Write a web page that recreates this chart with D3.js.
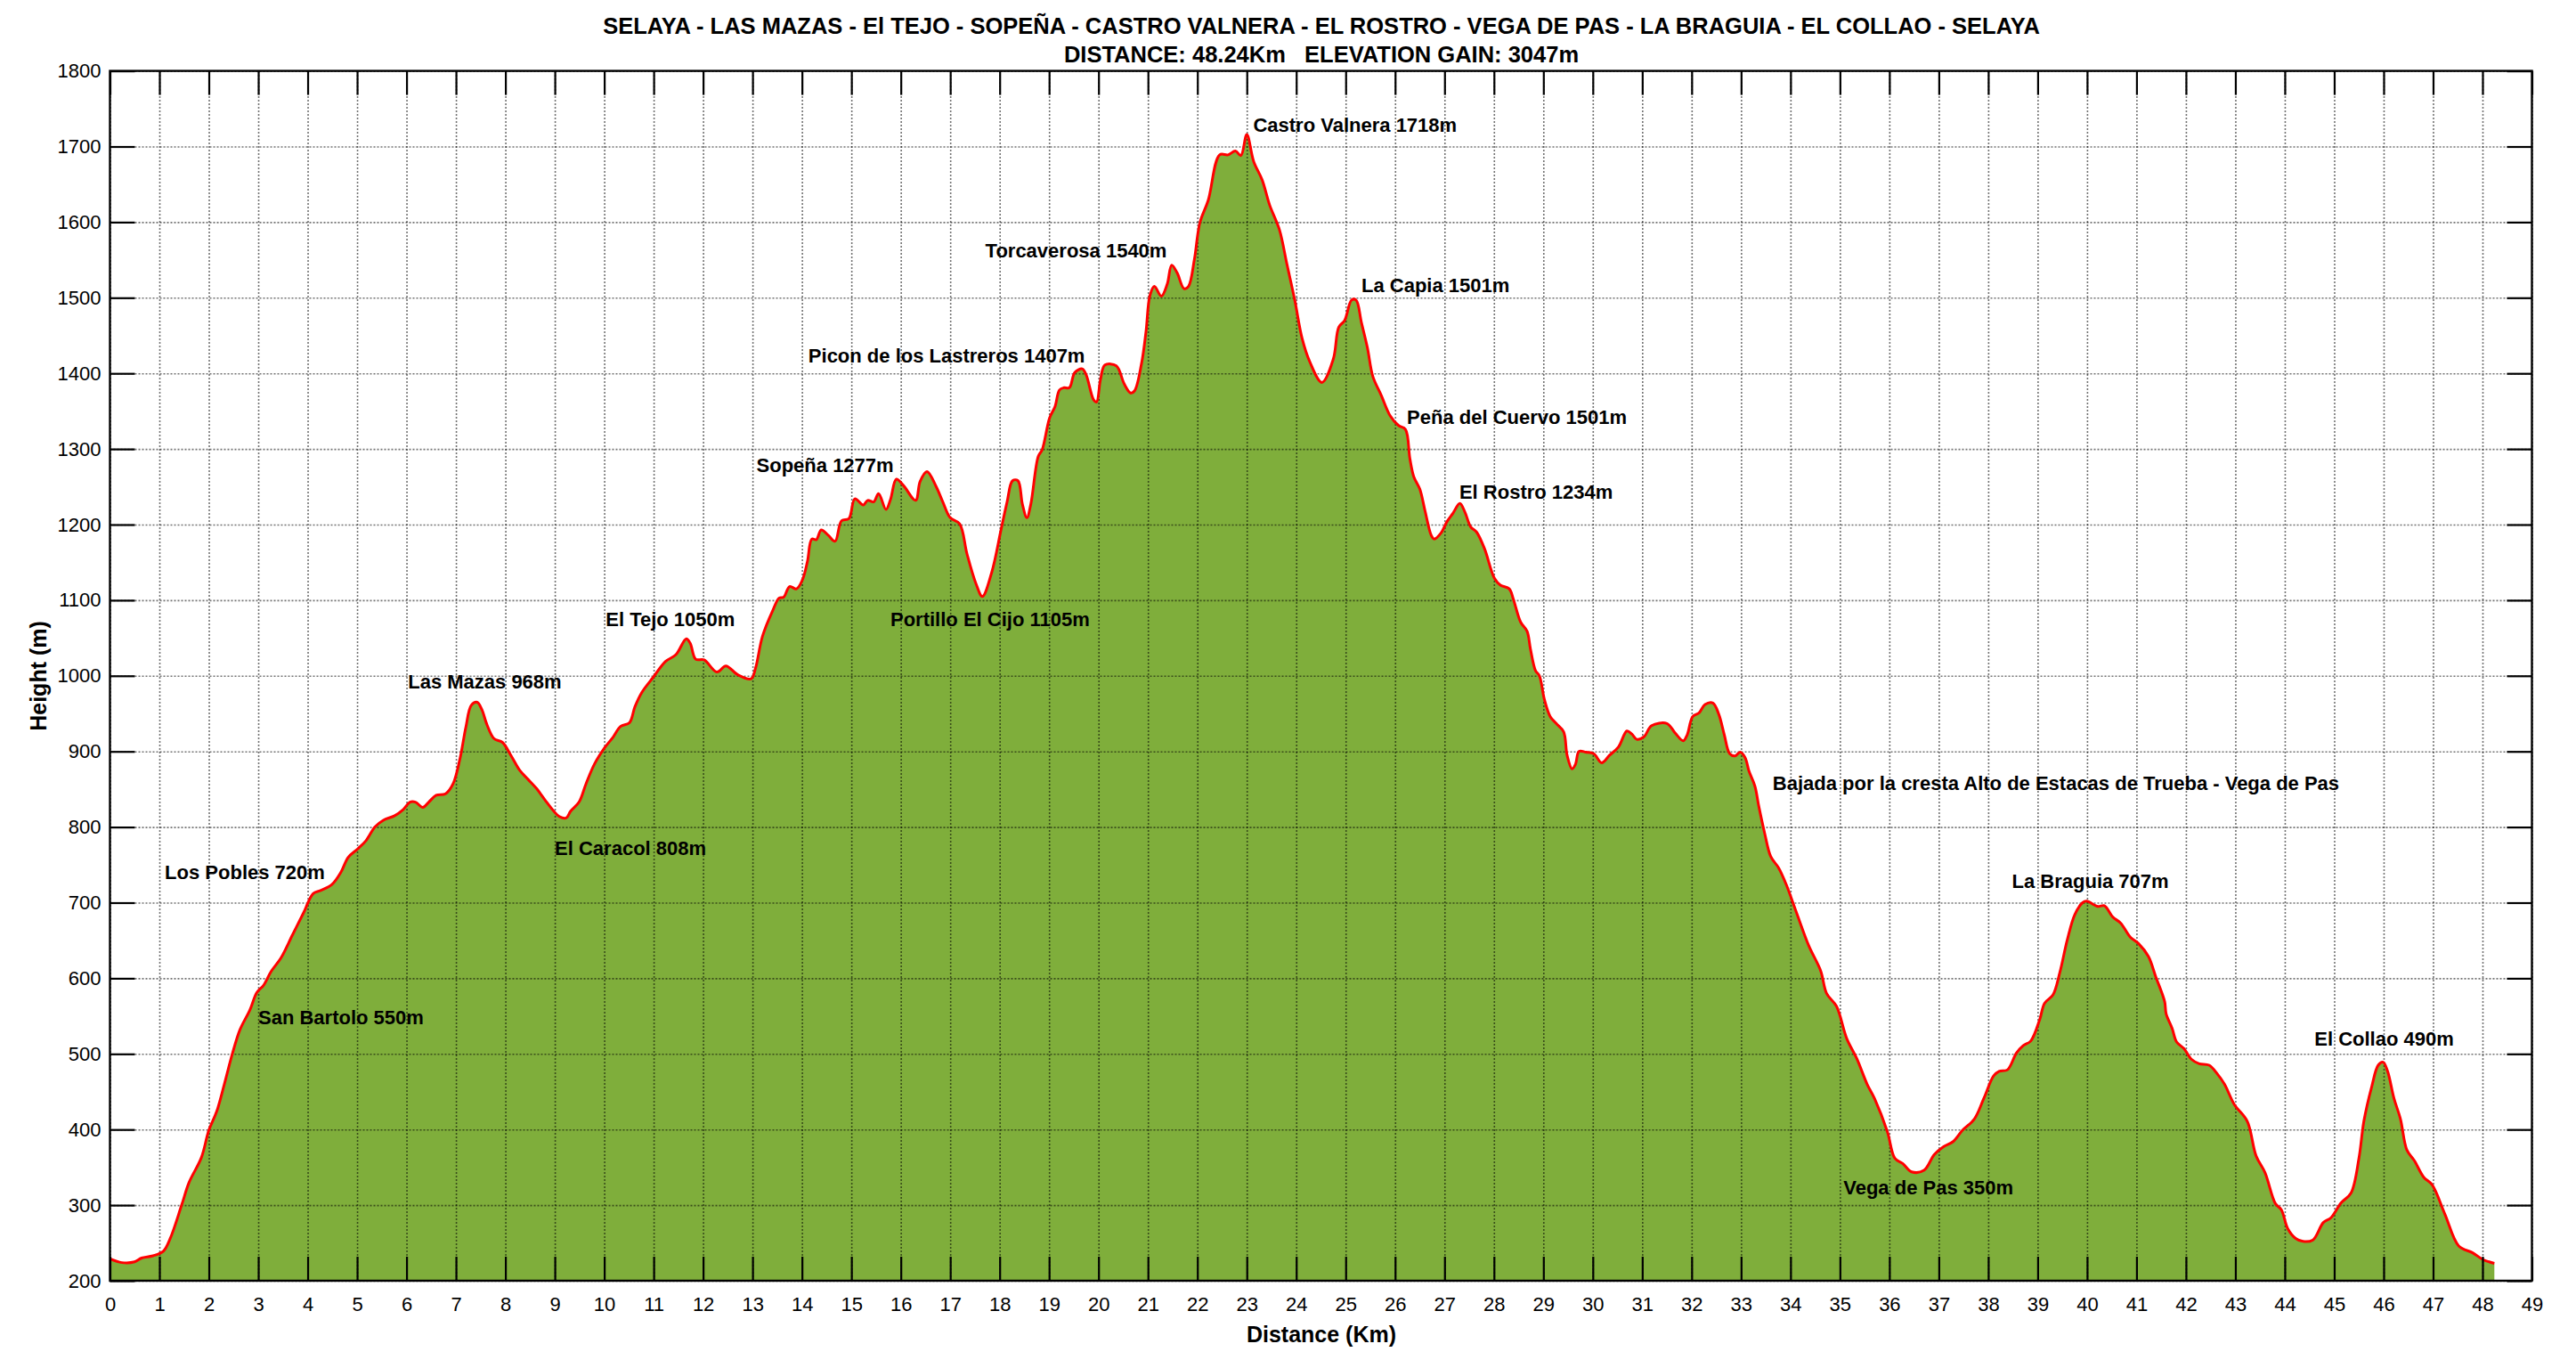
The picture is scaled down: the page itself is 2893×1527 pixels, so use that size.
<!DOCTYPE html>
<html lang="es">
<head>
    <meta charset="UTF-8">
    <title>Selaya - Castro Valnera</title>
    <script src="https://d3js.org/d3.v7.min.js"></script>
    <style>
        body, html { margin: 0; padding: 0; background: #fff; }
        svg { display: block; font-family: "Liberation Sans", Arial, sans-serif; }
        .grid line { stroke: #000; stroke-opacity: 0.55; stroke-width: 1.6px; stroke-dasharray: 2 2; }
        .grid path, .ticks path { display: none; }
        .ticks line { stroke: #000; stroke-width: 2.2px; }
        .ticks text { font-size: 22px; fill: #000; }
        .frame { fill: none; stroke: #000; stroke-width: 2.4px; }
        .area { fill: #7fae3b; }
        .line { fill: none; stroke: #f00; stroke-width: 3px; stroke-linejoin: round; }
        .label { font-size: 22px; font-weight: bold; fill: #000; }
        .title { font-size: 25.5px; font-weight: bold; text-anchor: middle; white-space: pre; }
        .axis-title { font-size: 25px; font-weight: bold; text-anchor: middle; }
    </style>
</head>
<body>
<div id="chart"></div>
<script>
// perfil: km y altura (m)
const distance = [0,0.24,0.5,0.64,0.87,1.08,1.22,1.45,1.6,1.85,2,2.16,2.31,2.48,2.63,2.83,2.97,3.11,3.26,3.46,3.69,3.92,4.11,4.26,4.49,4.67,4.82,5.01,5.18,5.36,5.53,5.76,5.93,6.07,6.18,6.33,6.45,6.6,6.79,6.94,7.08,7.2,7.31,7.43,7.52,7.63,7.77,7.94,8.11,8.29,8.46,8.63,8.8,8.98,9.09,9.23,9.32,9.49,9.63,9.8,10.01,10.18,10.33,10.51,10.62,10.76,10.99,11.24,11.45,11.66,11.74,11.85,12.02,12.28,12.46,12.71,12.97,13.06,13.2,13.4,13.54,13.63,13.75,13.89,14.01,14.11,14.2,14.29,14.39,14.53,14.67,14.8,14.95,15.07,15.24,15.33,15.45,15.55,15.7,15.79,15.91,16.05,16.3,16.39,16.53,16.71,16.85,17,17.19,17.34,17.52,17.65,17.84,18.03,18.15,18.26,18.37,18.46,18.55,18.63,18.78,18.86,19.01,19.12,19.21,19.3,19.41,19.52,19.67,19.75,19.9,19.96,20.04,20.13,20.36,20.52,20.65,20.73,20.87,20.96,21.04,21.13,21.27,21.39,21.48,21.59,21.73,21.82,21.94,22.05,22.22,22.45,22.62,22.77,22.88,23,23.14,23.31,23.46,23.66,23.81,23.97,24.12,24.27,24.52,24.75,24.86,24.98,25.12,25.21,25.32,25.44,25.55,25.72,25.9,26.07,26.21,26.3,26.38,26.5,26.61,26.73,26.79,26.93,27.05,27.17,27.31,27.41,27.53,27.65,27.81,28.01,28.13,28.31,28.39,28.54,28.67,28.74,28.84,28.92,29.02,29.14,29.26,29.41,29.48,29.58,29.65,29.72,29.86,30.02,30.18,30.34,30.52,30.69,30.79,30.89,31.03,31.19,31.5,31.67,31.83,31.91,32.02,32.15,32.27,32.43,32.55,32.66,32.77,32.88,32.98,33.08,33.16,33.28,33.36,33.48,33.6,33.76,33.92,34.12,34.37,34.61,34.73,34.93,35.14,35.34,35.55,35.7,35.96,36.11,36.27,36.45,36.7,36.91,37.09,37.29,37.48,37.72,37.91,38.11,38.22,38.39,38.57,38.71,38.86,39.04,39.14,39.31,39.45,39.6,39.75,39.91,39.99,40.22,40.35,40.52,40.68,40.88,41.04,41.24,41.39,41.57,41.6,41.72,41.81,41.96,42.11,42.27,42.47,42.63,42.78,42.98,43.24,43.42,43.6,43.81,43.93,44.06,44.22,44.37,44.57,44.78,44.93,45.14,45.34,45.5,45.6,45.76,45.89,45.99,46.08,46.21,46.34,46.47,46.62,46.81,46.98,47.24,47.52,47.8,48.01,48.24];
const elevation = [229,224,225,230,233,239,256,300,330,363,399,424,459,501,532,558,581,591,609,627,657,687,712,716,724,740,760,771,782,800,809,815,823,833,833,826,833,842,844,857,890,932,961,965,956,935,917,912,895,875,863,851,836,821,814,812,821,833,857,883,905,919,933,938,959,978,998,1019,1028,1049,1043,1022,1021,1005,1013,1001,996,1010,1052,1085,1103,1104,1118,1115,1127,1151,1181,1180,1193,1186,1178,1205,1208,1234,1226,1232,1230,1241,1220,1233,1260,1252,1232,1257,1270,1251,1230,1209,1201,1161,1122,1105,1137,1194,1230,1258,1258,1227,1209,1227,1290,1299,1341,1356,1378,1381,1381,1401,1406,1398,1365,1362,1392,1411,1410,1386,1374,1377,1413,1455,1503,1515,1502,1518,1543,1533,1512,1515,1551,1599,1629,1689,1689,1694,1688,1716,1680,1656,1623,1590,1545,1497,1446,1416,1388,1419,1461,1470,1497,1497,1467,1434,1396,1371,1344,1331,1326,1287,1263,1247,1217,1186,1181,1189,1204,1215,1228,1217,1197,1190,1168,1129,1120,1115,1102,1071,1059,1035,1007,1000,969,946,937,926,895,877,883,900,899,897,885,895,906,927,923,916,919,934,937,924,914,922,946,951,962,964,949,922,897,894,899,892,874,854,827,791,761,746,723,687,643,610,580,563,520,494,460,441,397,362,355,344,346,367,377,384,399,414,441,471,477,479,501,511,517,545,567,578,608,651,684,700,702,695,696,681,673,654,646,629,602,569,553,534,516,507,493,487,485,474,460,433,411,365,343,302,294,269,256,252,254,277,283,303,316,362,411,457,485,489,477,441,414,373,359,337,327,288,246,237,228,223];

const xTicks = d3.range(0, 50);
const yTicks = d3.range(200, 1900, 100);

// etiquetas: texto, km, altura
const labelText = ["Los Pobles 720m","San Bartolo 550m","Las Mazas 968m","El Caracol 808m","El Tejo 1050m","Sopeña 1277m","Picon de los Lastreros 1407m","Portillo El Cijo 1105m","Torcaverosa 1540m","Castro Valnera 1718m","La Capia 1501m","Peña del Cuervo 1501m","El Rostro 1234m","Bajada por la cresta Alto de Estacas de Trueba - Vega de Pas","La Braguia 707m","El Collao 490m","Vega de Pas 350m"];
const labelKm = [1.11,3.0,6.03,9.0,10.03,13.08,14.13,15.79,17.71,23.13,25.32,26.24,27.3,33.64,38.48,44.6,35.07];
const labelM = [740,548,992,772,1075,1278,1424,1075,1562,1729,1517,1342,1243,858,729,520,323];

const width = 2893, svgHeight = 1527;
const plotLeft = 123.5, plotRight = 2843.5, plotTop = 79.6, plotBottom = 1438;

const x = d3.scaleLinear().domain([0, 49]).range([plotLeft, plotRight]);
const y = d3.scaleLinear().domain([200, 1800]).range([plotBottom, plotTop]);

const svg = d3.select("#chart").append("svg")
    .attr("width", width)
    .attr("height", svgHeight);

const profile = distance.map((d, i) => [d, elevation[i]]);
const smooth = d3.curveCatmullRom.alpha(0.5);

svg.append("path")
    .attr("class", "area")
    .attr("d", d3.area().x(d => x(d[0])).y0(y(200)).y1(d => y(d[1])).curve(smooth)(profile));

// rejilla punteada
svg.append("g").attr("class", "grid")
    .attr("transform", `translate(0,${plotBottom})`)
    .call(d3.axisBottom(x).tickValues(xTicks).tickSize(plotTop - plotBottom).tickFormat(""));
svg.append("g").attr("class", "grid")
    .attr("transform", `translate(${plotLeft},0)`)
    .call(d3.axisLeft(y).tickValues(yTicks).tickSize(plotLeft - plotRight).tickFormat(""));

svg.append("path")
    .attr("class", "line")
    .attr("d", d3.line().x(d => x(d[0])).y(d => y(d[1])).curve(smooth)(profile));

// marcas hacia dentro en los cuatro lados
svg.append("g").attr("class", "ticks")
    .attr("transform", `translate(0,${plotBottom})`)
    .call(d3.axisBottom(x).tickValues(xTicks).tickSize(-27).tickPadding(18).tickFormat(d3.format("d")));
svg.append("g").attr("class", "ticks")
    .attr("transform", `translate(0,${plotTop})`)
    .call(d3.axisTop(x).tickValues(xTicks).tickSize(-27).tickFormat(""));
svg.append("g").attr("class", "ticks")
    .attr("transform", `translate(${plotLeft},0)`)
    .call(d3.axisLeft(y).tickValues(yTicks).tickSize(-28).tickPadding(10).tickFormat(d3.format("d")));
svg.append("g").attr("class", "ticks")
    .attr("transform", `translate(${plotRight},0)`)
    .call(d3.axisRight(y).tickValues(yTicks).tickSize(-28).tickFormat(""));

svg.append("rect").attr("class", "frame")
    .attr("x", plotLeft).attr("y", plotTop)
    .attr("width", plotRight - plotLeft).attr("height", plotBottom - plotTop);

svg.selectAll(".label")
    .data(labelText)
    .enter().append("text")
    .attr("class", "label")
    .attr("x", (d, i) => x(labelKm[i]))
    .attr("y", (d, i) => y(labelM[i]))
    .attr("dy", ".35em")
    .text(d => d);

svg.append("text").attr("class", "title").attr("x", 1484).attr("y", 38)
    .text("SELAYA - LAS MAZAS - El TEJO - SOPEÑA - CASTRO VALNERA - EL ROSTRO - VEGA DE PAS - LA BRAGUIA - EL COLLAO - SELAYA");
svg.append("text").attr("class", "title").attr("x", 1484).attr("y", 70)
    .text("DISTANCE: 48.24Km   ELEVATION GAIN: 3047m");

svg.append("text").attr("class", "axis-title").attr("x", 1484).attr("y", 1507)
    .text("Distance (Km)");
svg.append("text").attr("class", "axis-title")
    .attr("transform", "translate(52,759) rotate(-90)")
    .text("Height (m)");
</script>
</body>
</html>
